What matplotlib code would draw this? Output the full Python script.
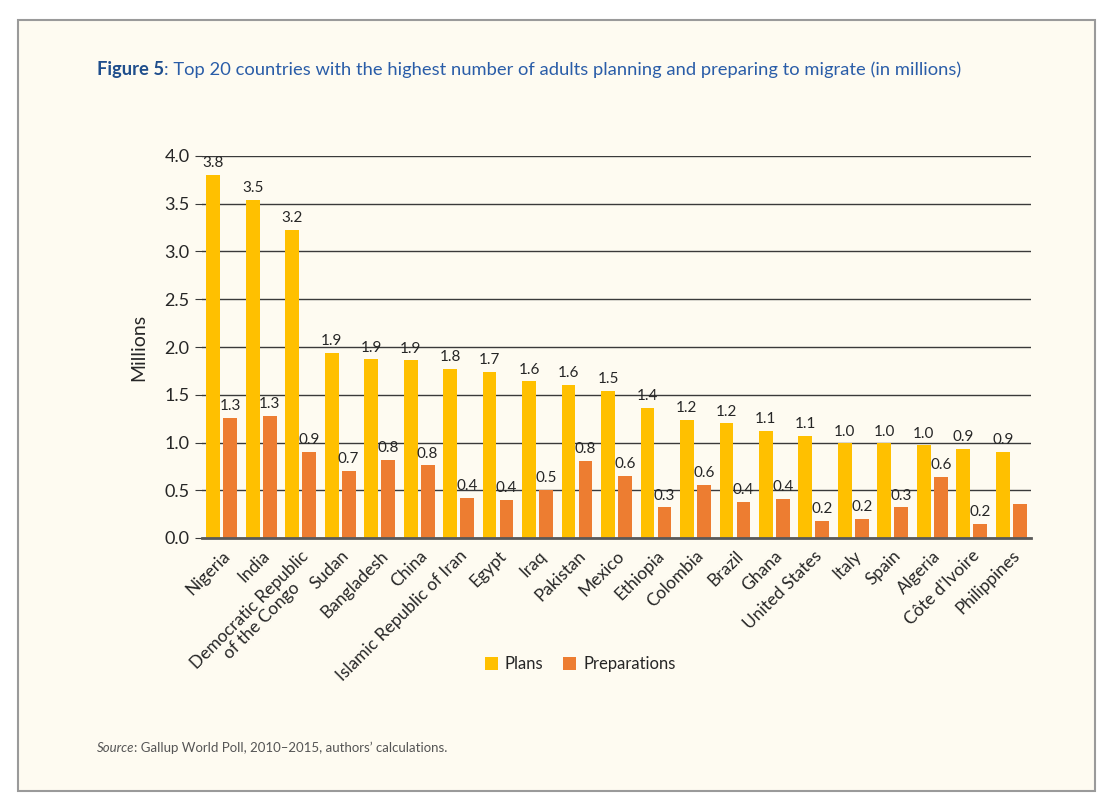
import matplotlib
matplotlib.use("Agg")
import matplotlib.pyplot as plt
from matplotlib.patches import Rectangle
import numpy as np

countries = ["Nigeria", "India", "Democratic Republic\nof the Congo", "Sudan", "Bangladesh",
             "China", "Islamic Republic of Iran", "Egypt", "Iraq", "Pakistan", "Mexico",
             "Ethiopia", "Colombia", "Brazil", "Ghana", "United States", "Italy", "Spain",
             "Algeria", "Côte d'Ivoire", "Philippines"]
plans = [3.80, 3.54, 3.23, 1.94, 1.87, 1.86, 1.77, 1.74, 1.64, 1.60, 1.54,
         1.36, 1.24, 1.20, 1.12, 1.07, 0.99, 0.99, 0.97, 0.93, 0.90]
preparations = [1.26, 1.28, 0.90, 0.70, 0.82, 0.76, 0.42, 0.40, 0.50, 0.81, 0.65,
                0.32, 0.56, 0.38, 0.41, 0.18, 0.20, 0.32, 0.64, 0.15, 0.36]
plan_labels = ["3.8", "3.5", "3.2", "1.9", "1.9", "1.9", "1.8", "1.7", "1.6", "1.6", "1.5",
               "1.4", "1.2", "1.2", "1.1", "1.1", "1.0", "1.0", "1.0", "0.9", "0.9"]
prep_labels = ["1.3", "1.3", "0.9", "0.7", "0.8", "0.8", "0.4", "0.4", "0.5", "0.8", "0.6",
               "0.3", "0.6", "0.4", "0.4", "0.2", "0.2", "0.3", "0.6", "0.2", ""]
yticks = [0.0, 0.5, 1.0, 1.5, 2.0, 2.5, 3.0, 3.5, 4.0]

FONT = "Lato"
plt.rcParams['font.family'] = [FONT, 'DejaVu Sans']

bg = "#FEFBF1"
c_plans = "#FFC000"
c_prep = "#ED7D31"
txt = "#262626"

W, H = 1113, 808
fig = plt.figure(figsize=(W/100, H/100), dpi=100)
fig.patch.set_facecolor("white")
fig.add_artist(Rectangle((18/W, 1-791/H), (1095-18)/W, (791-20)/H,
                         transform=fig.transFigure, facecolor=bg,
                         edgecolor="#9a9a9a", linewidth=1.5, zorder=-10))

n = len(countries)
ax = fig.add_axes([202/W, 1-538/H, 829/W, 382/H])
ax.set_zorder(1)
ax.set_facecolor("none")
x = np.arange(n)
w = 0.35
off = 0.215
ax.bar(x - off, plans, w, color=c_plans, zorder=3, label="Plans")
ax.bar(x + off, preparations, w, color=c_prep, zorder=3, label="Preparations")

for i in range(n):
    ax.text(x[i] - off, plans[i] + 0.05, plan_labels[i], ha="center", va="bottom",
            fontsize=11, color=txt, clip_on=False)
    if prep_labels[i]:
        ax.text(x[i] + off, preparations[i] + 0.05, prep_labels[i], ha="center", va="bottom",
                fontsize=11, color=txt, clip_on=False)

ax.set_xlim(-0.5, n - 0.5)
ax.set_ylim(0, 4.0)
ax.set_yticks(yticks)
ax.set_yticklabels([f"{v:.1f}" for v in yticks], fontsize=13, color=txt)
ax.yaxis.grid(True, color="#3a3a3a", linewidth=1.0, zorder=1)
ax.set_axisbelow(True)
for s in ["top", "right", "left"]:
    ax.spines[s].set_visible(False)
ax.spines["bottom"].set_color("#595959")
ax.spines["bottom"].set_linewidth(2)
ax.spines["bottom"].set_zorder(4)
ax.tick_params(axis="y", length=5, color="#3a3a3a", pad=4)
ax.tick_params(axis="x", length=0, pad=7)
ax.set_xticks(x)
ax.set_xticklabels(countries, rotation=45, ha="right", rotation_mode="anchor",
                   fontsize=12.5, color=txt, multialignment="center", linespacing=1.0)
ax.set_ylabel("Millions", fontsize=14, color=txt, labelpad=12)

leg = fig.legend(handles=ax.containers, labels=["Plans", "Preparations"],
                 loc="center", bbox_to_anchor=(580/W, 1-664/H), ncol=2,
                 frameon=False, fontsize=12, handlelength=0.8, handleheight=0.8,
                 handletextpad=0.4, columnspacing=1.2)
for t in leg.get_texts():
    t.set_color(txt)

renderer = fig.canvas.get_renderer()

t1 = fig.text(97/W, 1-70/H, "Figure 5", fontsize=13.2, fontweight="bold",
              color="#1F4E8C", va="center", ha="left")
bb = t1.get_window_extent(renderer)
fig.text(bb.x1/W, 1-70/H, ": Top 20 countries with the highest number of adults planning and preparing to migrate (in millions)",
         fontsize=13.2, color="#2A5DA8", va="center", ha="left")

s1 = fig.text(97/W, 1-748/H, "Source", fontsize=9.5, style="italic", color="#555555",
              va="center", ha="left")
bb2 = s1.get_window_extent(renderer)
fig.text(bb2.x1/W, 1-748/H, ": Gallup World Poll, 2010\u20132015, authors\u2019 calculations.",
         fontsize=9.5, color="#555555", va="center", ha="left")

fig.savefig("out.png", dpi=100, facecolor=fig.get_facecolor())
